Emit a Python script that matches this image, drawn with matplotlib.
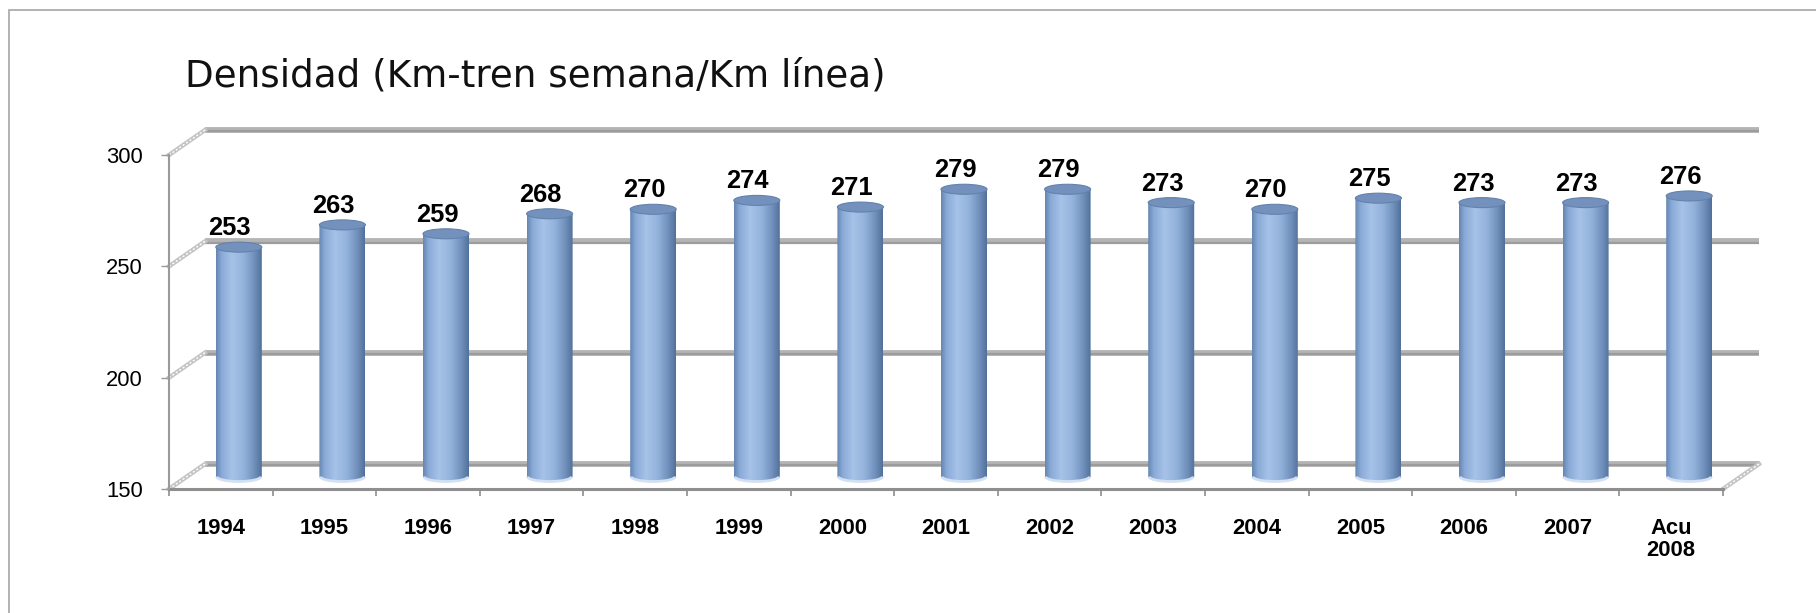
import numpy as np
import matplotlib
matplotlib.use("Agg")
import matplotlib.pyplot as plt
from matplotlib.patches import Ellipse, Arc, PathPatch, Rectangle
from matplotlib.path import Path
from matplotlib.colors import LinearSegmentedColormap

plt.rcParams['font.family'] = ['Liberation Sans', 'DejaVu Sans']

# datos
categorias = ['1994', '1995', '1996', '1997', '1998', '1999', '2000', '2001',
              '2002', '2003', '2004', '2005', '2006', '2007', 'Acu\n2008']
densidad = [253, 263, 259, 268, 270, 274, 271, 279, 279, 273, 270, 275, 273, 273, 276]
y_ticks = [150, 200, 250, 300]
titulo = 'Densidad (Km-tren semana/Km línea)'

W, H = 1816, 613
fig = plt.figure(figsize=(W / 100, H / 100), dpi=100)

# cara frontal del grafico en pixeles
left_px, right_px, top_px, bot_px = 169, 1723, 155, 489
ax = fig.add_axes([left_px / W, (H - bot_px) / H,
                   (right_px - left_px) / W, (bot_px - top_px) / H])
n = len(categorias)
ymin, ymax = y_ticks[0], y_ticks[-1]

# conversion pixel -> datos
px_x = n / (right_px - left_px)
px_y = (ymax - ymin) / (bot_px - top_px)
DX = 36 * px_x   # profundidad 3D
DY = 25 * px_y

# pared del fondo: lineas de division
for v in y_ticks:
    ax.plot([DX, n + DX], [v + DY, v + DY], color='#b4b4b4', lw=4.2,
            solid_capstyle='butt', clip_on=False, zorder=1)
    ax.plot([DX, n + DX], [v + DY - 0.6, v + DY - 0.6], color='#9c9c9c', lw=1.6,
            solid_capstyle='butt', clip_on=False, zorder=1)
    # pared lateral
    ax.plot([0, DX], [v, v + DY], color='#c4c4c4', lw=3.2, clip_on=False, zorder=1)
    ax.plot([0, DX], [v, v + DY], color='white', lw=1, dashes=(1.5, 1.5),
            clip_on=False, zorder=1)
# suelo lado derecho
ax.plot([n, n + DX], [ymin, ymin + DY], color='#c4c4c4', lw=3.2, clip_on=False, zorder=1)
ax.plot([n, n + DX], [ymin, ymin + DY], color='white', lw=1, dashes=(1.5, 1.5),
        clip_on=False, zorder=1)

# ejes frontales
ax.plot([0, n], [ymin, ymin], color='#8e8e8e', lw=2.2, clip_on=False, zorder=2)
ax.plot([0, 0], [ymin, ymax], color='#9a9a9a', lw=1.5, clip_on=False, zorder=2)

# cilindros
cmap = LinearSegmentedColormap.from_list('cil', [
    (0.0, '#6787b3'), (0.12, '#8aaad7'), (0.35, '#a6c2e8'),
    (0.6, '#94b3dc'), (0.85, '#6f8fbb'), (1.0, '#52719a')])
grad = cmap(np.linspace(0, 1, 64))[None, :, :3]

w = 46 * px_x
eh = 5 * px_y
for i, v in enumerate(densidad):
    xc = i + 0.5 + DX / 2
    x0, x1 = xc - w / 2, xc + w / 2
    yb = ymin + DY / 2
    yt = v + DY / 2
    t = np.linspace(np.pi, 2 * np.pi, 30)
    arc_x = xc + (w / 2) * np.cos(t)
    arc_y = yb + eh * np.sin(t)
    verts = [(x0, yt)] + list(zip(arc_x, arc_y)) + [(x1, yt), (x0, yt)]
    codes = [Path.MOVETO] + [Path.LINETO] * (len(verts) - 2) + [Path.CLOSEPOLY]
    clip = PathPatch(Path(verts, codes), transform=ax.transData,
                     facecolor='none', edgecolor='none')
    ax.add_patch(clip)
    im = ax.imshow(grad, extent=[x0, x1, yb - eh, yt], aspect='auto',
                   interpolation='bilinear', zorder=3, clip_on=True)
    im.set_clip_path(clip)
    ax.add_patch(Arc((xc, yb), w * 0.96, 2 * eh, theta1=185, theta2=355,
                     color='#d2e0f2', lw=2, zorder=4))
    ax.add_patch(Ellipse((xc, yt), w, 2 * eh, facecolor='#7391bc',
                         edgecolor='#6282ac', lw=0.8, zorder=4))
    ax.annotate(str(v), (i + 0.5 + DX / 4, yt), xytext=(0, 12),
                textcoords='offset pixels', ha='center', va='baseline',
                fontsize=18.4, fontweight='bold', color='black', zorder=5,
                annotation_clip=False)

ax.set_xlim(0, n)
ax.set_ylim(ymin, ymax)
for s in ax.spines.values():
    s.set_visible(False)

ax.set_yticks(y_ticks)
ax.set_yticklabels([str(t) for t in y_ticks], fontsize=15.8)
ax.tick_params(axis='y', length=5.8, width=1, color='#9a9a9a', pad=13)

ax.set_xticks(np.arange(n) + 0.5)
ax.set_xticklabels(categorias, fontsize=15.8, fontweight='bold', linespacing=1.05)
ax.set_xticks(np.arange(n + 1), minor=True)
ax.tick_params(axis='x', which='major', length=0, pad=21)
ax.tick_params(axis='x', which='minor', length=5, width=1.2, color='#8e8e8e')

# titulo
fig.text(185 / W, (H - 86.7) / H, titulo, fontsize=26.8,
         family=['DejaVu Sans'], ha='left', va='baseline', color='#111111')

# borde del area del grafico
fig.add_artist(Rectangle((9 / W, -0.1), 1.2, (H - 10) / H + 0.1,
                         transform=fig.transFigure, fill=False,
                         edgecolor='#a6a6a6', lw=1.2))

fig.savefig('out.png', dpi=100)
